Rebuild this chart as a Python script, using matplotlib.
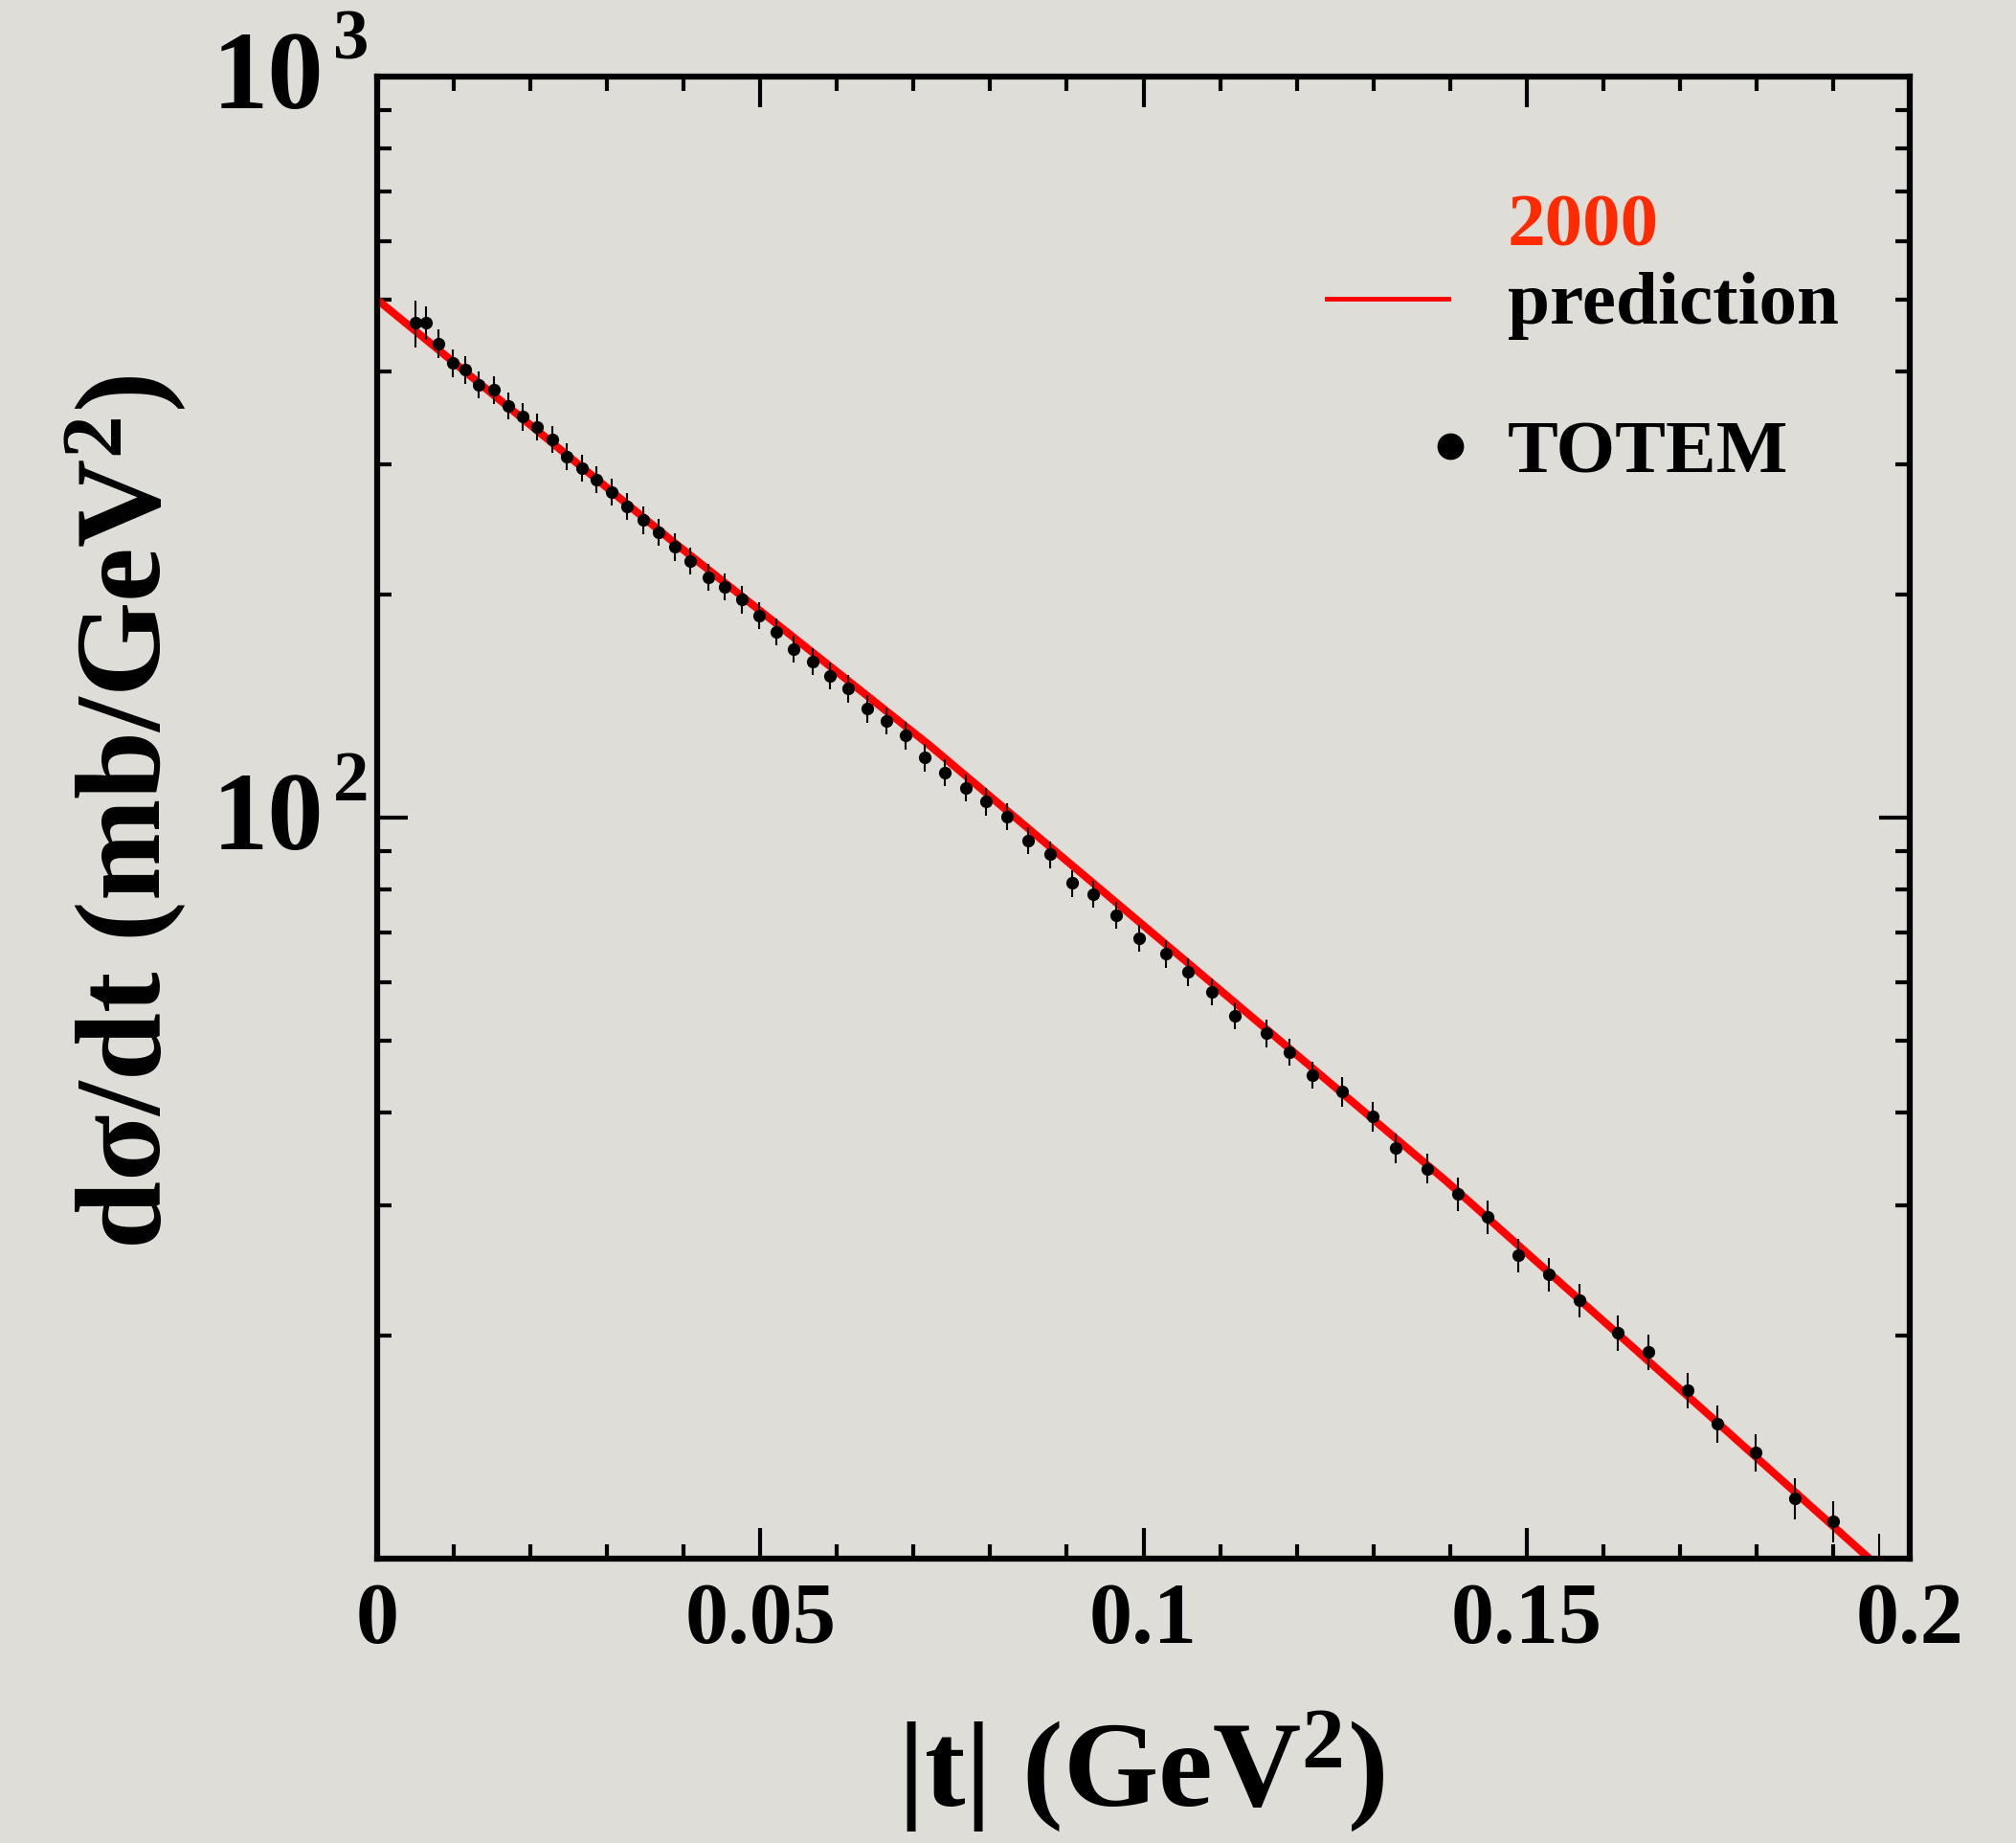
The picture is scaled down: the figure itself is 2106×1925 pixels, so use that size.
import matplotlib
matplotlib.use("Agg")
import matplotlib.pyplot as plt
from matplotlib.ticker import MultipleLocator, FixedLocator, NullFormatter, FixedFormatter

plt.rcParams['font.family'] = ['Liberation Serif', 'DejaVu Serif']
plt.rcParams['font.weight'] = 'bold'
plt.rcParams['mathtext.fontset'] = 'custom'
plt.rcParams['mathtext.rm'] = 'Liberation Serif:bold'
plt.rcParams['mathtext.bf'] = 'Liberation Serif:bold'
plt.rcParams['mathtext.it'] = 'Liberation Serif:bold'
plt.rcParams['mathtext.default'] = 'bf'

# TOTEM data points: |t| (GeV^2), dsigma/dt (mb/GeV^2), error
t_totem = [0.0050, 0.0064, 0.0080, 0.0099, 0.0115, 0.0133, 0.0152, 0.0171, 0.0190, 0.0209,
           0.0229, 0.0247, 0.0267, 0.0286, 0.0306, 0.0326, 0.0347, 0.0367, 0.0389, 0.0409,
           0.0432, 0.0454, 0.0476, 0.0498, 0.0521, 0.0544, 0.0568, 0.0591, 0.0615, 0.0640,
           0.0665, 0.0690, 0.0714, 0.0741, 0.0768, 0.0794, 0.0822, 0.0849, 0.0878, 0.0907,
           0.0935, 0.0965, 0.0995, 0.1029, 0.1058, 0.1089, 0.1119, 0.1160, 0.1190, 0.1220,
           0.1259, 0.1299, 0.1329, 0.1370, 0.1410, 0.1449, 0.1489, 0.1529, 0.1569, 0.1619,
           0.1659, 0.1710, 0.1749, 0.1799, 0.1850, 0.1900, 0.1960]
dsdt_totem = [465, 465, 436.4, 410.5, 402.1, 384.1, 377.7, 359.4, 347.5, 336.9,
              324.2, 307.3, 296.3, 285.8, 275.3, 263.0, 252.0, 242.7, 231.9, 222.0,
              211.0, 205.0, 196.9, 187.5, 178.3, 168.8, 162.6, 155.3, 149.3, 140.3,
              135.2, 129.1, 120.6, 115.1, 109.8, 105.1, 100.4, 93.2, 89.2, 81.6,
              78.9, 73.9, 68.8, 65.5, 61.9, 58.2, 54.1, 51.2, 48.3, 44.96,
              42.7, 39.5, 35.8, 33.6, 31.1, 28.9, 25.7, 24.2, 22.3, 20.2,
              19.0, 16.9, 15.2, 13.9, 12.07, 11.24, 9.5]
err_totem = [34, 24, 20, 17.2, 16.9, 16.1, 15.9, 15.1, 14.6, 14.1,
             13.6, 12.9, 12.4, 12.0, 11.6, 11.0, 10.6, 10.2, 9.7, 9.3,
             8.9, 8.6, 8.3, 7.9, 7.5, 7.1, 6.8, 6.5, 6.3, 5.9,
             5.7, 5.4, 5.1, 4.8, 4.6, 4.4, 4.2, 3.9, 3.7, 3.4,
             3.3, 3.1, 2.9, 2.8, 2.6, 2.4, 2.3, 2.2, 2.0, 1.9,
             2.0, 1.8, 1.65, 1.55, 1.62, 1.50, 1.34, 1.26, 1.16, 1.11,
             1.05, 0.93, 0.88, 0.81, 0.77, 0.72, 1.3]

# 2000 prediction curve
t_pred = [0.0, 0.0382, 0.0720, 0.1057, 0.1394, 0.1731, 0.1946, 0.1975]
dsdt_pred = [500, 237.6, 125.4, 63.8, 32.4, 15.86, 10.03, 9.4]

xticks = [0, 0.05, 0.1, 0.15, 0.2]
xtick_labels = ['0', '0.05', '0.1', '0.15', '0.2']
ytick_decades = [100, 1000]
ytick_exps = ['2', '3']

bg = '#DFDDD8'
W, H = 2106, 1925
fig = plt.figure(figsize=(W / 100, H / 100), dpi=100, facecolor=bg)
ax = fig.add_axes([394 / W, 1 - 1628 / H, 1601 / W, 1548 / H], facecolor=bg)

ax.plot(t_pred, dsdt_pred, color='#FF0000', lw=5.8, solid_capstyle='butt', zorder=2)
ax.errorbar(t_totem, dsdt_totem, yerr=err_totem, fmt='o', color='black', ms=8.5,
            elinewidth=1.5, capsize=0, zorder=3)

ax.set_yscale('log')
ax.set_xlim(0, 0.2)
ax.set_ylim(10, 1000)

ax.xaxis.set_major_locator(FixedLocator(xticks))
ax.xaxis.set_major_formatter(FixedFormatter(xtick_labels))
ax.xaxis.set_minor_locator(MultipleLocator(0.01))
ax.yaxis.set_major_formatter(NullFormatter())
ax.yaxis.set_minor_formatter(NullFormatter())

ax.tick_params(which='both', direction='in', top=True, right=True, width=3, color='black')
ax.tick_params(which='major', length=23)
ax.tick_params(which='minor', length=11)
ax.tick_params(axis='x', which='major', labelsize=65, pad=18)
for sp in ax.spines.values():
    sp.set_linewidth(4.5)

for lab in ax.get_xticklabels():
    lab.set_fontweight('bold')

# ROOT-style "10 ^n" labels
for v, e in zip(ytick_decades, ytick_exps):
    ax.annotate('10', xy=(0, v), xycoords=('axes fraction', 'data'),
                xytext=(-56 * 0.72, -33 * 0.72), textcoords='offset points',
                ha='right', va='baseline', fontsize=84, fontweight='bold')
    ax.annotate(e, xy=(0, v), xycoords=('axes fraction', 'data'),
                xytext=(-46 * 0.72, 18 * 0.72), textcoords='offset points',
                ha='left', va='baseline', fontsize=54, fontweight='bold')

fig.text(0.566, 39 / H, '|t| (GeV$^{2}$)', ha='center', va='baseline',
         fontsize=92, fontweight='bold')
fig.text(0.062, 0.559, 'dσ/dt (mb/GeV$^{2}$)', ha='center', va='center',
         rotation=90, fontsize=92, fontweight='bold')

# legend drawn by hand
ax.plot([0.6196, 0.6989], [0.8501, 0.8501], transform=ax.transAxes, color='#FF0000',
        lw=3.5, clip_on=False)
ax.text(0.7377, 0.8857, '2000', transform=ax.transAxes, color='#FF2A00',
        fontsize=57, fontweight='bold', ha='left', va='baseline')
ax.text(0.7377, 0.8333, 'prediction', transform=ax.transAxes, color='black',
        fontsize=57, fontweight='bold', ha='left', va='baseline')
ax.plot([0.7002], [0.7506], 'o', transform=ax.transAxes, color='black', ms=19,
        clip_on=False)
ax.text(0.7377, 0.7332, 'TOTEM', transform=ax.transAxes, color='black',
        fontsize=57, fontweight='bold', ha='left', va='baseline')

fig.savefig('out.png', dpi=100, facecolor=bg)
